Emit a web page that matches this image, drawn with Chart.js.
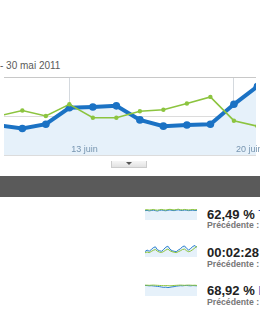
<!DOCTYPE html>
<html>
<head>
<meta charset="utf-8">
<script src="https://cdn.jsdelivr.net/npm/chart.js@4"></script>
<style>
  html, body { margin: 0; padding: 0; }
  body { width: 260px; height: 315px; overflow: hidden; position: relative; background: #fff; font-family: Arial, "Liberation Sans", sans-serif; }
  .abs { position: absolute; }
  #range { left: 0; top: 61px; font-size: 10px; color: #5a5a5a; line-height: 1; white-space: nowrap; }
  #main { left: 0; top: 73px; width: 260px; height: 86px; }
  #btn { left: 111px; top: 161px; width: 34px; height: 6px; border: 1px solid #ccc; border-top: none; background: linear-gradient(#f6f6f6, #e2e2e2); }
  #btn:after { content: ""; position: absolute; left: 14px; top: 1px; border-left: 3px solid transparent; border-right: 3px solid transparent; border-top: 3px solid #555; }
  #band { left: 0; top: 176px; width: 260px; height: 21px; background: #5a5a5a; }
  .spark { left: 145px; width: 52px; height: 12px; }
  .val { left: 207px; font-size: 13px; font-weight: bold; color: #222; line-height: 1; white-space: nowrap; }
  .val span { color: #1a63c6; font-weight: normal; }
  .prev { left: 207px; font-size: 8.7px; font-weight: bold; color: #777; line-height: 1; white-space: nowrap; }
</style>
</head>
<body>
<div id="range" class="abs">- 30 mai 2011</div>
<div id="main" class="abs"><canvas id="chart-main"></canvas></div>
<div id="btn" class="abs"></div>
<div id="band" class="abs"></div>

<div class="abs spark" style="top:208px"><canvas id="spark-1"></canvas></div>
<div class="abs val" style="top:208px">62,49 % <span>Taux de rebond</span></div>
<div class="abs prev" style="top:221px">Précédente : 60,12 %</div>

<div class="abs spark" style="top:245px"><canvas id="spark-2"></canvas></div>
<div class="abs val" style="top:246px">00:02:28 <span>Durée moyenne</span></div>
<div class="abs prev" style="top:260px">Précédente : 00:02:31</div>

<div class="abs spark" style="top:284px"><canvas id="spark-3"></canvas></div>
<div class="abs val" style="top:284px">68,92 % <span>Nouvelles visites</span></div>
<div class="abs prev" style="top:298px">Précédente : 70,05 %</div>

<script>
  // jours de juin 2011
  const days = [10, 11, 12, 13, 14, 15, 16, 17, 18, 19, 20, 21];
  const visits = [38, 34, 39.5, 60.5, 61.5, 63, 45, 37, 38.5, 39.5, 65, 88];
  const visitsPrev = [50, 57, 50, 65, 47.7, 47.7, 56, 58, 66, 74.5, 44, 37];
  const tickDays = [13, 20];
  const tickLabels = ["13 juin", "20 juin"];

  const spark1 = [78, 80, 76, 79, 82, 78, 75, 80, 83, 79, 77, 81, 84, 80, 78, 82, 85, 80, 79, 83, 81, 78, 80, 82, 79, 81];
  const spark1Prev = [84, 86, 83, 85, 88, 84, 82, 86, 88, 85, 83, 87, 89, 86, 84, 87, 90, 86, 85, 88, 86, 84, 86, 88, 85, 87];
  const spark2 = [45, 58, 48, 62, 78, 85, 60, 52, 48, 64, 82, 90, 66, 52, 48, 44, 58, 68, 86, 92, 72, 58, 72, 88, 96, 78];
  const spark2Prev = [35, 42, 36, 46, 56, 62, 48, 40, 38, 46, 58, 66, 52, 44, 40, 36, 44, 52, 62, 66, 52, 44, 50, 62, 76, 90];
  const spark3 = [88, 87, 85, 86, 84, 82, 80, 78, 75, 72, 74, 70, 73, 76, 78, 82, 84, 86, 85, 87, 88, 86, 85, 87, 86, 85];
  const spark3Prev = [90, 90, 89, 90, 91, 90, 89, 88, 87, 86, 87, 86, 85, 86, 88, 89, 90, 91, 90, 89, 90, 91, 90, 89, 90, 88];

  const BLUE = "#1b72c4";
  const GREEN = "#8cc43f";
  const FILL = "#e6f1fa";

  // etiquettes de date dans la zone du graphique
  const inLabels = {
    id: "inLabels",
    afterDraw(chart) {
      const { ctx, chartArea, scales } = chart;
      ctx.save();
      ctx.font = "9px Arial, 'Liberation Sans', sans-serif";
      ctx.fillStyle = "#7795b0";
      ctx.textBaseline = "alphabetic";
      tickDays.forEach((d, i) => {
        ctx.fillText(tickLabels[i], scales.x.getPixelForValue(d) + 2, chartArea.bottom - 3);
      });
      ctx.restore();
    },
  };

  new Chart(document.getElementById("chart-main"), {
    type: "line",
    data: {
      datasets: [
        {
          data: days.map((d, i) => ({ x: d, y: visits[i] })),
          borderColor: BLUE,
          backgroundColor: FILL,
          pointBackgroundColor: BLUE,
          pointBorderWidth: 0,
          borderWidth: 4,
          pointRadius: 3.8,
          fill: "start",
          tension: 0,
          order: 1,
        },
        {
          data: days.map((d, i) => ({ x: d, y: visitsPrev[i] })),
          borderColor: GREEN,
          pointBackgroundColor: GREEN,
          pointBorderWidth: 0,
          borderWidth: 1.6,
          pointRadius: 2.2,
          fill: false,
          tension: 0,
          order: 0,
        },
      ],
    },
    options: {
      responsive: true,
      maintainAspectRatio: false,
      animation: false,
      layout: { padding: 0 },
      plugins: { legend: { display: false }, tooltip: { enabled: false } },
      scales: {
        x: {
          type: "linear",
          min: 10.22,
          max: 20.94,
          afterBuildTicks: (s) => { s.ticks = tickDays.map((v) => ({ value: v })); },
          ticks: { display: false },
          grid: { color: "#d4d9de", drawTicks: false },
          border: { display: false },
        },
        y: {
          min: 0,
          max: 100,
          ticks: { display: false, stepSize: 50 },
          grid: { color: (c) => (c.tick.value === 100 ? "#c8c8c8" : "#dcdcdc"), drawTicks: false },
          border: { display: false },
        },
      },
    },
    plugins: [inLabels],
  });

  function sparkline(id, cur, prev) {
    const labels = cur.map((_, i) => i);
    new Chart(document.getElementById(id), {
      type: "line",
      data: {
        labels,
        datasets: [
          { data: cur, borderColor: "#2a7fce", backgroundColor: FILL, borderWidth: 1, pointRadius: 0, fill: "start", order: 1 },
          { data: prev, borderColor: GREEN, borderWidth: 1, pointRadius: 0, fill: false, order: 0 },
        ],
      },
      options: {
        responsive: true,
        maintainAspectRatio: false,
        animation: false,
        plugins: { legend: { display: false }, tooltip: { enabled: false } },
        scales: {
          x: { display: false },
          y: { display: false, min: 0, max: 100 },
        },
      },
    });
  }

  sparkline("spark-1", spark1, spark1Prev);
  sparkline("spark-2", spark2, spark2Prev);
  sparkline("spark-3", spark3, spark3Prev);
</script>
</body>
</html>
